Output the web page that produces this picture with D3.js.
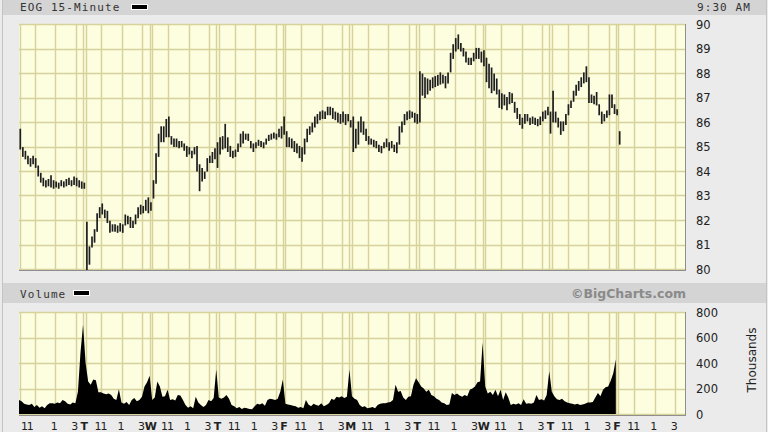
<!DOCTYPE html>
<html><head><meta charset="utf-8">
<script src="https://cdn.jsdelivr.net/npm/d3@7"></script>
<style>html,body{margin:0;padding:0;background:#ebebeb;overflow:hidden}</style>
</head><body><svg id="c" width="768" height="432"></svg>
<script>
// ---- data ----
const title = "EOG 15-Minute";
const timeLabel = "9:30 AM";
const dayLetters = ["M","T","W","T","F","M","T","W","T","F"];
const barsPerDay = 26;
const hourBars = [6, 14, 22];
const hourLabels = ["11", "1", "3"];
const priceTicks = [80,81,82,83,84,85,86,87,88,89,90];
const volumeTicks = [0,200,400,600,800];

const high = [
 85.7,84.95,84.8,84.6,84.5,84.6,84.5,84.2,83.9,83.7,83.6,83.65,83.8,83.6,83.55,83.5,83.6,83.55,83.65,83.7,83.6,83.75,83.7,83.6,83.55,83.5,
 81.9,80.9,81.3,81.6,82.25,82.5,82.65,82.4,82.35,81.95,81.8,81.8,81.75,81.85,81.8,82.2,82.15,82.1,81.95,82.2,82.5,82.6,82.55,82.8,82.9,82.7,
 83.6,84.7,85.5,85.8,85.8,86.1,86.2,85.4,85.3,85.3,85.2,85.2,85.1,85.0,84.95,84.8,84.95,85.0,84.25,84.1,83.95,84.5,84.6,84.75,84.9,85.15,
 85.35,85.4,85.9,85.35,85.0,84.8,84.85,85.1,85.5,85.6,85.5,85.5,85.2,85.1,85.15,85.25,85.2,85.15,85.3,85.45,85.5,85.55,85.5,85.7,85.8,86.2,
 85.6,85.35,85.3,85.2,85.1,85.0,84.95,85.3,85.7,85.8,85.95,86.2,86.3,86.4,86.45,86.4,86.6,86.6,86.55,86.4,86.35,86.3,86.4,86.3,86.3,86.05,
 86.2,85.7,86.0,86.2,86.0,85.7,85.4,85.3,85.25,85.2,85.05,85.0,85.15,85.3,85.15,85.2,85.05,85.15,85.8,86.0,86.3,86.4,86.45,86.4,86.35,86.3,
 88.05,87.95,87.8,87.75,87.7,87.8,87.85,87.9,88.0,87.9,87.85,88.0,88.8,89.15,89.4,89.55,89.2,89.0,88.85,88.6,88.6,88.8,89.0,89.0,88.85,88.9,
 88.6,88.35,88.2,87.95,87.75,87.3,87.15,87.1,87.0,87.2,87.15,86.8,86.55,86.3,86.15,86.3,86.3,86.15,86.2,86.15,86.1,86.2,86.4,86.45,86.6,86.4,
 87.25,86.4,86.15,86.0,86.0,86.3,86.7,86.85,87.25,87.5,87.65,87.8,88.0,88.25,87.8,87.1,87.05,87.2,86.7,86.4,86.3,86.45,87.1,87.1,86.7,86.5,
 85.6
];
const low = [
 84.9,84.6,84.5,84.3,84.2,84.3,84.15,83.8,83.55,83.4,83.35,83.4,83.35,83.3,83.35,83.3,83.4,83.35,83.4,83.45,83.4,83.45,83.4,83.35,83.3,83.3,
 79.95,80.2,80.9,81.1,81.55,82.1,82.25,82.1,81.9,81.5,81.55,81.55,81.5,81.55,81.5,81.8,81.85,81.7,81.7,81.85,82.1,82.25,82.3,82.4,82.3,82.4,
 82.9,83.5,84.6,85.2,85.2,85.4,85.4,85.1,85.0,85.0,84.95,85.0,84.85,84.6,84.7,84.55,84.7,84.0,83.2,83.6,83.7,84.0,84.35,84.35,84.5,84.15,
 84.7,84.9,84.95,84.8,84.6,84.55,84.6,84.8,85.0,85.15,85.3,85.25,84.95,84.8,84.95,85.05,85.0,84.95,85.1,85.25,85.3,85.35,85.3,85.4,85.35,85.5,
 85.0,85.0,84.95,84.8,84.75,84.55,84.4,84.7,85.2,85.5,85.6,85.8,85.95,86.1,86.15,86.15,86.3,86.3,86.15,86.1,86.0,85.95,86.0,85.9,86.05,85.8,
 84.8,84.95,85.1,85.6,85.5,85.25,85.1,85.1,85.0,84.95,84.8,84.75,84.95,85.0,84.85,84.95,84.8,84.75,85.1,85.6,85.9,86.1,86.15,86.2,86.0,85.95,
 86.0,87.1,87.0,87.15,87.3,87.4,87.45,87.5,87.55,87.6,87.4,87.6,88.05,88.6,88.9,89.0,88.9,88.7,88.45,88.35,88.35,88.5,88.6,88.6,88.45,88.3,
 87.65,87.4,87.2,87.3,87.15,86.6,86.55,86.7,86.5,86.75,86.8,86.4,86.15,85.9,85.75,85.95,86.05,85.9,85.95,85.9,85.85,85.9,86.05,86.15,86.3,85.55,
 86.0,86.0,85.8,85.5,85.65,85.9,86.3,86.6,86.85,87.1,87.3,87.45,87.6,87.65,86.8,86.8,86.75,86.7,86.3,85.95,86.05,86.2,86.3,86.6,86.35,86.3,
 85.1
];
// volume in thousands
const volume = [
 120,110,100,80,75,70,80,55,70,50,60,45,70,85,85,80,90,85,110,100,80,75,90,85,175,480,
 700,400,255,230,270,265,170,170,160,155,160,150,120,110,195,90,80,95,70,110,125,100,110,135,215,250,
 300,110,130,255,215,135,140,190,110,115,105,150,145,110,70,50,60,45,135,90,70,55,70,110,100,125,
 350,130,120,130,150,120,70,60,45,55,40,50,45,40,37,60,80,75,85,65,110,120,115,110,120,175,
 270,80,75,70,65,60,50,55,45,110,75,60,80,70,65,85,60,70,85,120,110,135,130,140,125,135,
 350,140,120,110,70,55,60,45,50,55,45,70,80,85,85,90,95,110,230,175,180,130,110,135,140,230,
 280,250,215,200,175,190,150,140,120,110,90,85,70,75,165,150,160,145,135,150,140,190,200,215,250,255,
 560,215,160,175,150,190,140,190,110,170,130,70,80,75,85,70,115,80,85,80,90,150,110,115,105,150,
 335,175,140,115,110,120,100,90,85,80,75,80,70,75,80,90,90,95,130,165,140,190,210,215,260,320,
 430
];

// ---- drawing ----
const svg = d3.select("#c");
const W = 768, H = 432;
const plotL = 19, plotR = 685;
const pTop = 24, pBot = 270;
const vTop = 312, vBot = 415;
const bg = "#fdfde0", grid = "#d6d29a", border = "#8e8e8e";
const nDays = dayLetters.length;

const x = d3.scaleLinear().domain([-0.5, nDays * barsPerDay - 0.5]).range([plotL, plotR]);
const y = d3.scaleLinear().domain([80, 90]).range([269, 24]);
const vy = d3.scaleLinear().domain([0, 800]).range([414, 312]);

svg.append("rect").attr("width", W).attr("height", H).attr("fill", "#ebebeb");
svg.append("line").attr("x1", 2.5).attr("x2", 2.5).attr("y1", 0).attr("y2", H).attr("stroke", "#c4c4c4");
svg.append("line").attr("x1", 766.5).attr("x2", 766.5).attr("y1", 0).attr("y2", H).attr("stroke", "#c4c4c4");

// header bands
svg.append("rect").attr("x", 3).attr("y", 0).attr("width", 763).attr("height", 15).attr("fill", "#d4d4d4");
svg.append("rect").attr("x", 3).attr("y", 283).attr("width", 763).attr("height", 20).attr("fill", "#d4d4d4");

const mono = "'DejaVu Sans Mono', monospace";
const sans = "'DejaVu Sans', sans-serif";

svg.append("text").attr("x", 20).attr("y", 11).attr("font-family", mono).attr("font-size", 11)
  .attr("letter-spacing", 1.1).attr("fill", "#333").text(title);
svg.append("rect").attr("x", 131.5).attr("y", 4.5).attr("width", 16).attr("height", 5)
  .attr("fill", "#000").attr("stroke", "#fff");
svg.append("text").attr("x", 751).attr("y", 11).attr("text-anchor", "end").attr("font-family", mono)
  .attr("font-size", 11).attr("letter-spacing", 1.1).attr("fill", "#333").text(timeLabel);

svg.append("text").attr("x", 20).attr("y", 298).attr("font-family", mono).attr("font-size", 11)
  .attr("letter-spacing", 1.1).attr("fill", "#333").text("Volume");
svg.append("rect").attr("x", 73.5).attr("y", 290.5).attr("width", 16).attr("height", 5)
  .attr("fill", "#000").attr("stroke", "#fff");
svg.append("text").attr("x", 686).attr("y", 298).attr("text-anchor", "end").attr("font-family", sans)
  .attr("font-weight", "bold").attr("font-size", 12.5).attr("fill", "#8a8a8a").text("\u00A9BigCharts.com");

function panel(top, bot, yScale, ticks) {
  const g = svg.append("g");
  g.append("rect").attr("x", plotL).attr("y", top).attr("width", plotR - plotL).attr("height", bot - top).attr("fill", bg);
  g.selectAll(".h").data(ticks).join("line")
    .attr("x1", plotL).attr("x2", plotR)
    .attr("y1", d => Math.round(yScale(d)) + 0.5).attr("y2", d => Math.round(yScale(d)) + 0.5)
    .attr("stroke", grid).attr("stroke-width", 1.4);
  const vlines = [plotL + 0.5];
  for (let d = 0; d < nDays; d++) {
    if (d > 0) { vlines.push(x(d * barsPerDay - 1.5)); vlines.push(x(d * barsPerDay - 0.5)); }
    hourBars.forEach(b => vlines.push(x(d * barsPerDay + b - 0.3)));
  }
  g.selectAll(".v").data(vlines).join("line")
    .attr("x1", d => Math.round(d) + 0.5).attr("x2", d => Math.round(d) + 0.5)
    .attr("y1", top).attr("y2", bot)
    .attr("stroke", grid).attr("stroke-width", 1.4);
  return g;
}

panel(pTop, pBot, y, priceTicks);
panel(vTop, vBot, vy, volumeTicks);

svg.append("clipPath").attr("id", "pc").append("rect").attr("x", plotL).attr("y", pTop).attr("width", plotR - plotL).attr("height", pBot - pTop);
svg.append("clipPath").attr("id", "vc").append("rect").attr("x", plotL).attr("y", vTop).attr("width", plotR - plotL).attr("height", vBot - vTop);

// price bars
const bars = high.map((h, i) => ({ i, h, l: low[i] }));
svg.append("g").attr("clip-path", "url(#pc)").selectAll("line").data(bars).join("line")
  .attr("x1", d => x(d.i)).attr("x2", d => x(d.i))
  .attr("y1", d => y(d.h) - 0.6).attr("y2", d => y(d.l) + 0.6)
  .attr("stroke", "#1e1e1e").attr("stroke-width", 1.7);

// volume area
const area = d3.area().x((d, i) => x(i - 1.5)).y0(vy(0)).y1(d => vy(d));
svg.append("g").attr("clip-path", "url(#vc)").append("path").datum(volume)
  .attr("d", area).attr("fill", "#000");

// borders (shadow edges)
[[pTop, pBot], [vTop, vBot]].forEach(([t, b]) => {
  svg.append("line").attr("x1", plotR + 0.5).attr("x2", plotR + 0.5).attr("y1", t).attr("y2", b + 1).attr("stroke", border);
  svg.append("line").attr("x1", plotL).attr("x2", plotR + 1).attr("y1", b + 0.5).attr("y2", b + 0.5).attr("stroke", border);
});

// price axis labels
svg.append("g").selectAll("text").data(priceTicks).join("text")
  .attr("x", 696).attr("y", d => y(d) + 4.5).attr("font-family", sans).attr("font-size", 11.5)
  .attr("fill", "#222").text(d => d);
// volume axis labels
svg.append("g").selectAll("text").data(volumeTicks).join("text")
  .attr("x", 696).attr("y", d => vy(d) + 4.5).attr("font-family", sans).attr("font-size", 11.5)
  .attr("fill", "#222").text(d => d);
svg.append("text").attr("transform", "translate(756,360) rotate(-90)").attr("text-anchor", "middle")
  .attr("font-family", sans).attr("font-size", 12).attr("fill", "#222").text("Thousands");

// time axis labels
const xl = svg.append("g").attr("font-family", sans).attr("font-size", 11).attr("fill", "#222");
for (let d = 0; d < nDays; d++) {
  if (d > 0) {
    xl.append("text").attr("x", x(d * barsPerDay - 1)).attr("y", 430).attr("text-anchor", "middle")
      .attr("font-weight", "bold").text(dayLetters[d]);
  }
  hourBars.forEach((b, k) => {
    const gx = x(d * barsPerDay + b - 0.3);
    const first = d === 0 && k === 0;
    xl.append("text").attr("x", first ? gx - 2 : gx - 1).attr("y", 430)
      .attr("text-anchor", first ? "end" : "middle").attr("letter-spacing", hourLabels[k] === "11" ? -1 : 0)
      .text(hourLabels[k]);
  });
}
</script></body></html>
